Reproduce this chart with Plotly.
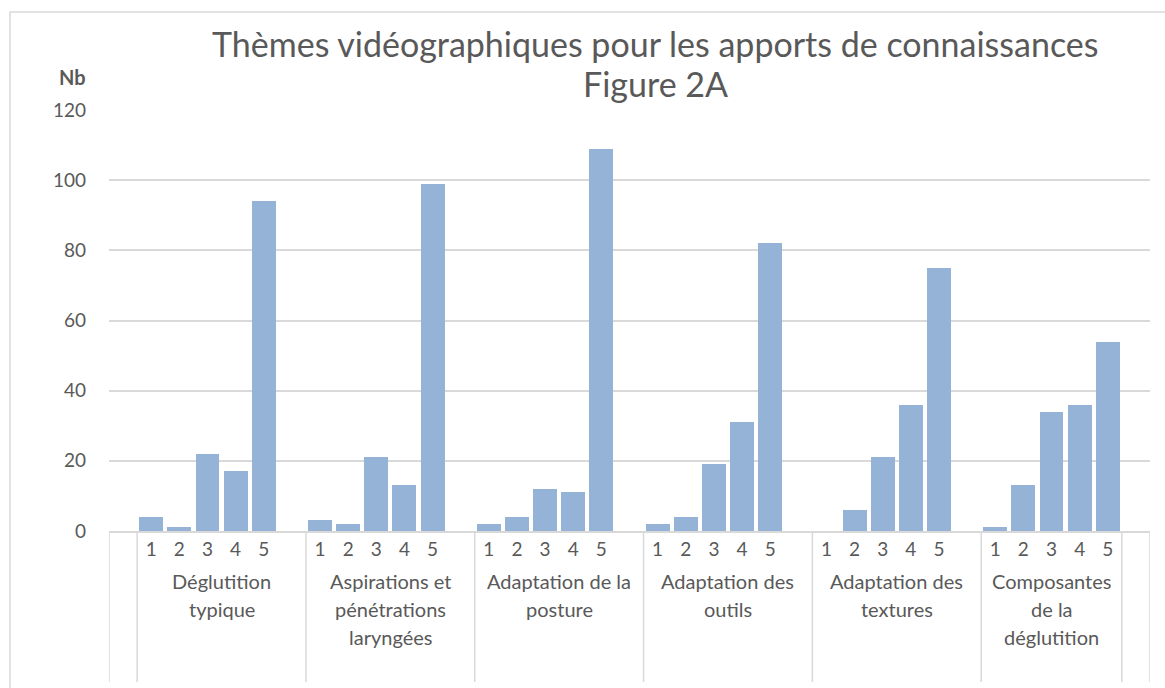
import plotly.graph_objects as go

# ---- data ----
title_lines = ["Thèmes vidéographiques pour les apports de connaissances", "Figure 2A"]
groups = ["Déglutition<br>typique",
          "Aspirations et<br>pénétrations<br>laryngées",
          "Adaptation de la<br>posture",
          "Adaptation des<br>outils",
          "Adaptation des<br>textures",
          "Composantes<br>de la<br>déglutition"]
items = ["1", "2", "3", "4", "5"]
values = [
    [4, 1, 22, 17, 94],
    [3, 2, 21, 13, 99],
    [2, 4, 12, 11, 109],
    [2, 4, 19, 31, 82],
    [0, 6, 21, 36, 75],
    [1, 13, 34, 36, 54],
]
y_ticks = [0, 20, 40, 60, 80, 100, 120]

# ---- layout constants ----
W, H = 1165, 688
L, R, T, B = 109, 15, 110, 157
plot_w = W - L - R
plot_h = H - T - B
FONT = "Lato, 'Open Sans', sans-serif"
GRAY = "#595959"
GRID = "#D9D9D9"

# Excel-like slot layout: 1 leading blank slot, groups of 5 bars + 1 blank, trailing blank
xs, ys, tv, tt = [], [], [], []
group_bounds = []
pos = 1
for g, vals in enumerate(values):
    start = pos
    for i, v in enumerate(vals):
        xs.append(pos)
        ys.append(v)
        tv.append(pos)
        tt.append(items[i])
        pos += 1
    if g < len(values) - 1:
        pos += 1  # blank row attached to this group
    group_bounds.append((start - 0.5, pos - 0.5))
n_slots = pos + 1  # trailing blank slot
x_range = [-0.5, n_slots - 0.5]

fig = go.Figure()
fig.add_trace(go.Bar(
    x=xs, y=ys, width=0.85,
    marker=dict(color="#95B3D7", line=dict(width=0)),
    hoverinfo="y",
))

def py(px_from_top):
    """pixel row -> paper y"""
    return (H - B - px_from_top) / plot_h

def px(px_from_left):
    return (px_from_left - L) / plot_w

shapes = []
# separator lines under the axis
bottom = py(682)
sep_x = [x_range[0], 0.5] + [b for (_, b) in group_bounds] + [x_range[1]]
for sx in sep_x:
    shapes.append(dict(type="line", xref="x", yref="paper", x0=sx, x1=sx,
                       y0=0, y1=bottom, line=dict(color=GRID, width=1.5)))
# chart border
shapes.append(dict(type="rect", xref="paper", yref="paper",
                   x0=px(10), x1=px(1175), y0=py(700), y1=py(12),
                   line=dict(color=GRID, width=1.5), fillcolor="rgba(0,0,0,0)", layer="below"))

annotations = []
# title lines
for k, line in enumerate(title_lines):
    annotations.append(dict(text=line, x=px(655), y=py(44 + 39 * k), xref="paper", yref="paper",
                            showarrow=False, xanchor="center", yanchor="middle",
                            font=dict(family=FONT, size=34, color=GRAY)))
# group labels, one annotation per line for Excel-like line spacing
for g, label in enumerate(groups):
    a, b = group_bounds[g]
    cx = (a + b) / 2
    for k, line in enumerate(label.split("<br>")):
        annotations.append(dict(text=line, x=cx, xref="x", y=py(581 + 28 * k), yref="paper",
                                showarrow=False, xanchor="center", yanchor="middle",
                                font=dict(family=FONT, size=20, color=GRAY)))
# axis title "Nb"
annotations.append(dict(text="<b>Nb</b>", x=px(72), y=py(77), xref="paper", yref="paper",
                        showarrow=False, xanchor="center", yanchor="middle",
                        font=dict(family=FONT, size=20, color=GRAY)))

fig.update_layout(
    width=W, height=H,
    margin=dict(l=L, r=R, t=T, b=B),
    paper_bgcolor="white", plot_bgcolor="white",
    showlegend=False,
    bargap=0,
    xaxis=dict(range=x_range, tickvals=tv, ticktext=tt, showgrid=False, zeroline=False,
               showline=True, linecolor=GRID, linewidth=1.5, ticks="",
               tickfont=dict(family=FONT, size=19, color=GRAY), fixedrange=True),
    yaxis=dict(range=[0, 120], tickvals=y_ticks, showgrid=True, gridcolor=GRID, gridwidth=1.5,
               zeroline=False, showline=False, ticks="", ticklabelstandoff=22,
               tickfont=dict(family=FONT, size=19, color=GRAY), fixedrange=True),
    shapes=shapes,
    annotations=annotations,
)

fig.write_html("out.html", config={"displayModeBar": False},
               post_script="document.body.style.margin='0px';document.body.style.overflow='hidden';")
